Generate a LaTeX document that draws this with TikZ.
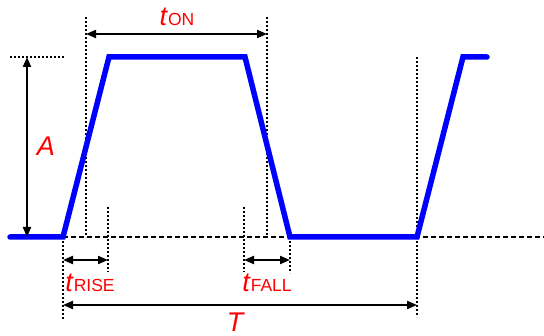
\documentclass[tikz,border=0pt]{standalone}
\usepackage{fontspec}
\setmainfont{Liberation Sans}
\usetikzlibrary{arrows.meta,positioning}
\definecolor{sigblue}{RGB}{0,0,255}
\definecolor{lblred}{RGB}{255,0,0}
\tikzstyle{wave}=[draw=sigblue,line width=5.5pt,line join=miter,line cap=round]
\tikzstyle{guide}=[draw=black,line width=1.3pt,dash pattern=on 2pt off 2pt]
\tikzstyle{base}=[draw=black,line width=2.8pt,dash pattern=on 5pt off 3pt]
\tikzstyle{dim}=[{Triangle[length=10pt,width=8pt]}-{Triangle[length=10pt,width=8pt]},line width=2pt]
\tikzstyle{lbl}=[text=lblred,inner sep=0pt,font=\fontsize{27}{27}\selectfont]
\newcommand{\tsub}[1]{\textit{t}{\fontsize{17.5}{17.5}\selectfont #1}}

\begin{document}
\begin{tikzpicture}[x=1pt,y=-1pt]
\useasboundingbox (0,0) rectangle (544,336);
% corners of the pulse
\coordinate (s0) at (10,237);
\coordinate (r0) at (63,237);
\coordinate (r1) at (109,57);
\coordinate (f0) at (245,57);
\coordinate (f1) at (290,237);
\coordinate (n0) at (417,237);
\coordinate (n1) at (463,57);
\coordinate (e0) at (487,57);
\coordinate (b1) at (544,237);
% guide lines
\draw[guide] (86,17) -- (86,237);
\draw[guide] (267,17) -- (267,237);
\draw[guide] (108,207) -- (108,272);
\draw[guide] (r0) -- (63,320);
\draw[guide] (244,207) -- (244,272);
\draw[guide] (f1) -- (290,273);
\draw[guide] (417,57) -- (417,317);
\draw[guide] (10,57) -- (65,57);
\draw[base] (r0) -- (b1);
% signal
\draw[wave] (s0) -- (r0) -- (r1) -- (f0) -- (f1) -- (n0) -- (n1) -- (e0);
% dimensions
\coordinate (aT) at (27,57);
\coordinate (aB) at (27,237);
\coordinate (onL) at (86,34);
\coordinate (onR) at (267,34);
\coordinate (riL) at (63,260);
\coordinate (riR) at (108,260);
\coordinate (faL) at (244,260);
\coordinate (faR) at (290,260);
\coordinate (pL) at (63,305);
\coordinate (pR) at (417,305);
\draw[dim] (aT) -- (aB);
\draw[dim] (onL) -- (onR);
\draw[dim] (riL) -- (riR);
\draw[dim] (faL) -- (faR);
\draw[dim] (pL) -- (pR);
% labels
\node[lbl] (amp) at (46,146) {\textit{A}};
\node[lbl] (ton) at (177,17) {\tsub{ON}};
\node[lbl] (trise) at (90,283) {\tsub{RISE}};
\node[lbl] (tfall) at (267,283) {\tsub{FALL}};
\node[lbl] (per) at (236,322) {\textit{T}};
\end{tikzpicture}
\end{document}
